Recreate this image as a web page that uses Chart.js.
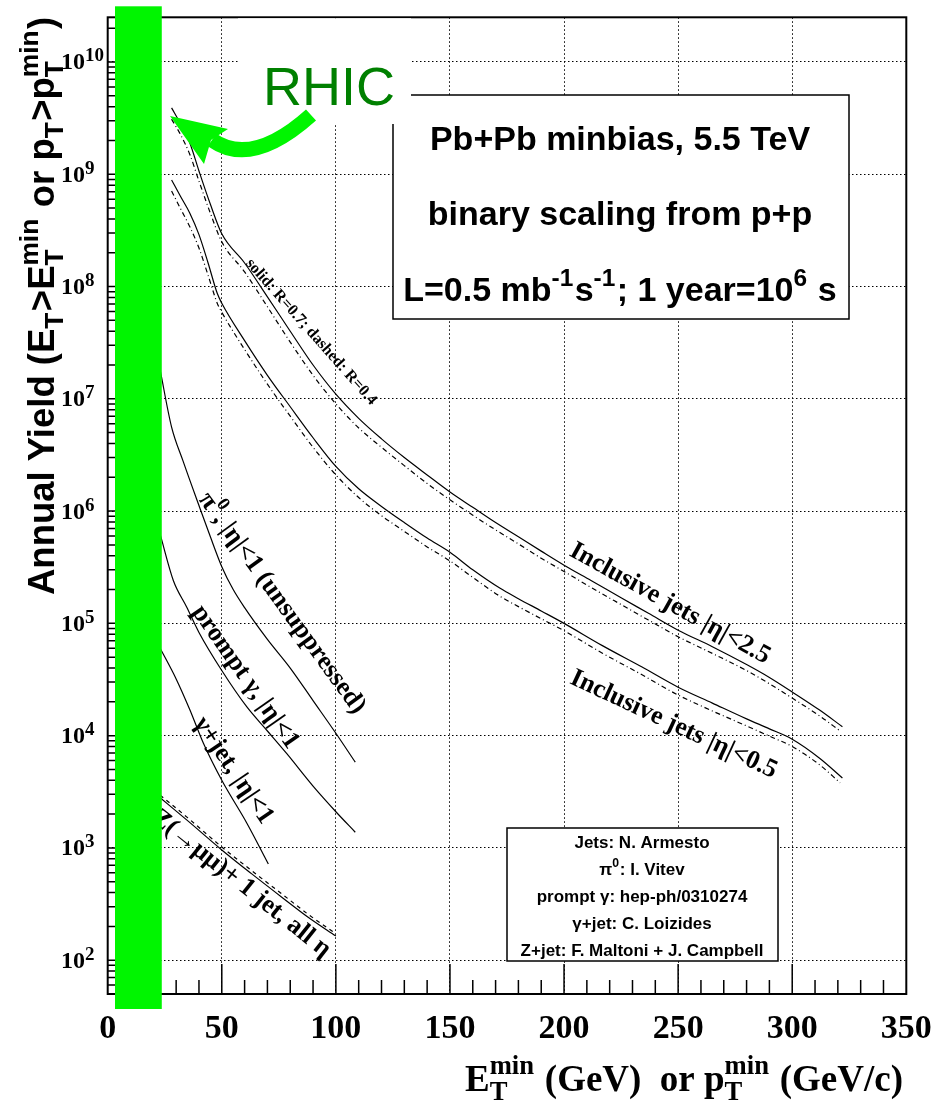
<!DOCTYPE html>
<html>
<head>
<meta charset="utf-8">
<script src="https://cdn.jsdelivr.net/npm/chart.js"></script>
<style>
  html, body { margin: 0; padding: 0; background: #fff; }
  #wrap { width: 948px; height: 1105px; }
</style>
</head>
<body>
<div id="wrap"><canvas id="c" width="948" height="1105"></canvas></div>
<script>
const $ = (q) => document.querySelector(q);

const SERIF = '"Liberation Serif", "Times New Roman", serif';
const SANS = '"Liberation Sans", Arial, Helvetica, sans-serif';
const GREEN = "rgb(0,245,0)";

// ---------- DATA ----------
const xGrid = [0, 50, 100, 150, 200, 250, 300, 350];
const yDecades = [1e2, 1e3, 1e4, 1e5, 1e6, 1e7, 1e8, 1e9, 1e10];
const yExponents = ["2", "3", "4", "5", "6", "7", "8", "9", "10"];

// inclusive jets |eta|<2.5
const jet25X = [28, 32, 36, 40, 45, 50, 60, 70, 80, 90, 100, 110, 120, 130, 140, 150, 160, 170, 180, 190, 200, 212, 225, 237, 250, 265, 280, 290, 300, 312, 322];
const jet25R07 = [3.9e9, 2.8e9, 1.9e9, 1.07e9, 5.4e8, 2.95e8, 1.62e8, 8.1e7, 4.0e7, 2.0e7, 1.1e7, 6.7e6, 4.4e6, 3.0e6, 2.1e6, 1.48e6, 1.08e6, 7.9e5, 5.9e5, 4.4e5, 3.3e5, 2.4e5, 1.69e5, 1.23e5, 8.7e4, 6.2e4, 4.3e4, 3.3e4, 2.45e4, 1.69e4, 1.2e4];
const jet25R04X = [28, 32, 36, 40, 45, 50, 60, 70, 80, 90, 100, 110, 120, 130, 140, 150, 160, 170, 180, 190, 200, 212, 225, 237, 250, 265, 280, 290, 300, 312, 321];
const jet25R04 = [3.1e9, 2.24e9, 1.5e9, 8.7e8, 4.5e8, 2.5e8, 1.35e8, 6.6e7, 3.2e7, 1.62e7, 9.0e6, 5.5e6, 3.7e6, 2.54e6, 1.76e6, 1.26e6, 9.2e5, 6.8e5, 5.1e5, 3.8e5, 2.9e5, 2.08e5, 1.47e5, 1.07e5, 7.6e4, 5.4e4, 3.8e4, 2.9e4, 2.16e4, 1.5e4, 1.1e4];

// inclusive jets |eta|<0.5
const jet05X = [28, 32, 36, 40, 44, 48, 50, 60, 70, 80, 90, 100, 110, 120, 130, 140, 150, 160, 172, 180, 190, 200, 217, 234, 250, 265, 280, 290, 300, 312, 322];
const jet05R07 = [8.9e8, 6.3e8, 4.5e8, 2.9e8, 1.62e8, 8.7e7, 7.1e7, 3.3e7, 1.62e7, 8.5e6, 4.5e6, 2.5e6, 1.58e6, 1.1e6, 7.9e5, 5.75e5, 4.3e5, 3.0e5, 2.05e5, 1.66e5, 1.29e5, 1.0e5, 6.3e4, 4.1e4, 2.7e4, 1.95e4, 1.41e4, 1.15e4, 9.3e3, 6.3e3, 4.2e3];
const jet05R04X = [28, 32, 36, 40, 44, 48, 50, 60, 70, 80, 90, 100, 110, 120, 130, 140, 150, 160, 172, 180, 190, 200, 217, 234, 250, 265, 280, 290, 300, 312, 321];
const jet05R04 = [7.1e8, 4.9e8, 3.4e8, 2.2e8, 1.26e8, 7.1e7, 5.9e7, 2.75e7, 1.35e7, 7.0e6, 3.7e6, 2.1e6, 1.32e6, 9.1e5, 6.6e5, 4.8e5, 3.6e5, 2.57e5, 1.74e5, 1.41e5, 1.1e5, 8.6e4, 5.4e4, 3.5e4, 2.3e4, 1.66e4, 1.22e4, 9.9e3, 8.0e3, 5.5e3, 3.8e3];

// pi0 |eta|<1 (unsuppressed)
const pi0X = [23, 28, 33, 40, 45, 50, 55, 60, 70, 80, 90, 100, 108.5];
const pi0Y = [1.8e7, 5.6e6, 2.8e6, 1.12e6, 5.9e5, 3.2e5, 2.0e5, 1.38e5, 7.2e4, 4.0e4, 2.05e4, 1.05e4, 5.8e3];

// prompt gamma |eta|<1
const promptX = [23, 28.8, 34.6, 40, 50, 61, 70, 78.5, 90, 100, 108.5];
const promptY = [6.2e5, 2.4e5, 1.4e5, 8.3e4, 3.8e4, 1.8e4, 1.1e4, 6.9e3, 3.55e3, 2.1e3, 1.38e3];

// gamma + jet |eta|<1
const gjetX = [23, 30, 36, 42, 50, 61, 70.4];
const gjetY = [6.0e4, 3.2e4, 1.7e4, 8.5e3, 4.0e3, 1.66e3, 7.2e2];

// Z(->mumu) + 1 jet
const zjetX = [23, 35, 50, 63, 77, 88, 100];
const zjetY = [2.8e3, 1.75e3, 9.6e2, 5.9e2, 3.55e2, 2.4e2, 1.64e2];
const zjetDashY = [2.95e3, 1.86e3, 1.02e3, 6.3e2, 3.8e2, 2.55e2, 1.72e2];

// RHIC band (GeV)
const rhicBand = [3.2, 23.7];

// ---------- TEXT HELPERS ----------
const SMALL = 0.72;

function partWidth(ctx, p, size, fam, weight) {
  if (typeof p === "string") {
    ctx.font = `${weight} ${size}px ${fam}`;
    return ctx.measureText(p).width;
  }
  ctx.font = `${weight} ${size * SMALL}px ${fam}`;
  const a = p.sub ? ctx.measureText(p.sub).width : 0;
  const b = p.sup ? ctx.measureText(p.sup).width : 0;
  return Math.max(a, b) + size * 0.04;
}

function drawParts(ctx, parts, x, y, size, fam, weight, align) {
  let total = 0;
  parts.forEach(p => { total += partWidth(ctx, p, size, fam, weight); });
  let cx = align === "center" ? x - total / 2 : align === "right" ? x - total : x;
  ctx.textAlign = "left";
  ctx.textBaseline = "alphabetic";
  for (const p of parts) {
    const w = partWidth(ctx, p, size, fam, weight);
    if (typeof p === "string") {
      ctx.font = `${weight} ${size}px ${fam}`;
      ctx.fillText(p, cx, y);
    } else {
      ctx.font = `${weight} ${size * SMALL}px ${fam}`;
      if (p.sub) ctx.fillText(p.sub, cx, y + size * 0.24);
      if (p.sup) ctx.fillText(p.sup, cx, y - size * 0.45);
    }
    cx += w;
  }
}

function rotLabel(ctx, parts, px, py, deg, size) {
  ctx.save();
  ctx.translate(px, py);
  ctx.rotate(deg * Math.PI / 180);
  ctx.fillStyle = "#000";
  drawParts(ctx, parts, 0, size * 0.33, size, SERIF, "bold", "center");
  ctx.restore();
}

// ---------- OVERLAY PIECES ----------
function drawCurveLabels(ctx, xs, ys) {
  const at = (x, y) => [xs.getPixelForValue(x), ys.getPixelForValue(y)];
  const labels = [
    { parts: ["solid: R=0.7; dashed: R=0.4"], x: 89.5, y: 4.0e7, deg: 48.5, size: 16 },
    { parts: ["Inclusive jets |η|<2.5"], x: 246.8, y: 1.55e5, deg: 29, size: 26 },
    { parts: ["Inclusive jets |η|<0.5"], x: 248.4, y: 1.3e4, deg: 25, size: 26 },
    { parts: ["π", { sup: "0" }, ", |η|<1 (unsuppressed)"], x: 77, y: 1.55e5, deg: 54, size: 26 },
    { parts: ["prompt γ, |η|<1"], x: 61, y: 3.4e4, deg: 55, size: 26 },
    { parts: ["γ+jet, |η|<1"], x: 55.8, y: 5.0e3, deg: 56, size: 26 },
    { parts: ["Z(→μμ)+ 1 jet, all η"], x: 59, y: 4.95e2, deg: 38.5, size: 26 }
  ];
  labels.forEach(l => {
    const [px, py] = at(l.x, l.y);
    rotLabel(ctx, l.parts, px, py, l.deg, l.size);
  });
}

function drawInfoBox(ctx) {
  ctx.fillStyle = "#fff";
  ctx.fillRect(393, 95, 456, 224);
  ctx.strokeStyle = "#000";
  ctx.lineWidth = 1.5;
  ctx.strokeRect(393, 95, 456, 224);
  ctx.fillStyle = "#000";
  drawParts(ctx, ["Pb+Pb minbias, 5.5 TeV"], 620, 150, 34, SANS, "bold", "center");
  drawParts(ctx, ["binary scaling from p+p"], 620, 225, 34, SANS, "bold", "center");
  drawParts(ctx, ["L=0.5 mb", { sup: "-1" }, "s", { sup: "-1" }, "; 1 year=10", { sup: "6" }, " s"], 620, 301, 34, SANS, "bold", "center");
}

function drawCredits(ctx) {
  ctx.fillStyle = "#fff";
  ctx.fillRect(507, 828, 271, 133);
  ctx.strokeStyle = "#000";
  ctx.lineWidth = 1.5;
  ctx.strokeRect(507, 828, 271, 133);
  ctx.fillStyle = "#000";
  const lines = [
    ["Jets: N. Armesto"],
    ["π", { sup: "0" }, ": I. Vitev"],
    ["prompt γ: hep-ph/0310274"],
    ["γ+jet: C. Loizides"],
    ["Z+jet: F. Maltoni + J. Campbell"]
  ];
  lines.forEach((l, i) => drawParts(ctx, l, 642, 848 + i * 27, 17, SANS, "bold", "center"));
}

function drawFrame(ctx, area, xs, ys) {
  ctx.strokeStyle = "#000";
  ctx.lineWidth = 2;
  ctx.strokeRect(area.left, area.top, area.right - area.left, area.bottom - area.top);

  // x ticks: every 10 GeV, longer every 50
  ctx.lineWidth = 1.5;
  ctx.beginPath();
  for (let v = 10; v < 350; v += 10) {
    const px = xs.getPixelForValue(v);
    const len = v % 50 === 0 ? 30 : 14;
    ctx.moveTo(px, area.bottom);
    ctx.lineTo(px, area.bottom - len);
  }
  // y ticks: decades and 2..9
  for (let d = 1e1; d <= 1e10; d *= 10) {
    for (let m = 1; m <= 9; m++) {
      const v = d * m;
      if (v < ys.min || v > ys.max) continue;
      const py = ys.getPixelForValue(v);
      ctx.moveTo(area.left, py);
      ctx.lineTo(area.left + (m === 1 ? 16 : 9), py);
    }
  }
  ctx.stroke();
}

function drawAxisLabels(ctx, area, xs, ys) {
  ctx.fillStyle = "#000";
  xGrid.forEach(v => {
    drawParts(ctx, [String(v)], xs.getPixelForValue(v), 1038, 34, SERIF, "bold", "center");
  });
  yDecades.forEach((v, i) => {
    const py = ys.getPixelForValue(v);
    ctx.font = `bold 24px ${SERIF}`;
    ctx.textAlign = "left";
    ctx.textBaseline = "alphabetic";
    ctx.fillText("10", 61, py + 7.5);
    const w = ctx.measureText("10").width;
    ctx.font = `bold 19px ${SERIF}`;
    ctx.fillText(yExponents[i], 61 + w, py - 0.5);
  });

  // x title
  drawParts(ctx, ["E", { sub: "T", sup: "min" }, " (GeV)  or p", { sub: "T", sup: "min" }, " (GeV/c)"],
    903, 1091, 37, SERIF, "bold", "right");

  // y title
  ctx.save();
  ctx.translate(54, 595);
  ctx.rotate(-Math.PI / 2);
  drawParts(ctx, ["Annual Yield (E", { sub: "T" }, ">E", { sub: "T", sup: "min" }, " or p", { sub: "T" }, ">p", { sub: "T", sup: "min" }, ")"],
    0, 0, 36.5, SANS, "bold", "left");
  ctx.restore();
}

function drawRhic(ctx, area, xs) {
  // white patch behind the RHIC text
  ctx.fillStyle = "#fff";
  ctx.fillRect(238, area.top + 1, 173, 124 - area.top - 1);

  // band
  const x0 = xs.getPixelForValue(rhicBand[0]);
  const x1 = xs.getPixelForValue(rhicBand[1]);
  ctx.fillStyle = GREEN;
  ctx.fillRect(x0, area.top - 11, x1 - x0, area.bottom - area.top + 26);

  // label
  ctx.fillStyle = "#008000";
  ctx.font = `54px ${SANS}`;
  ctx.textAlign = "left";
  ctx.textBaseline = "alphabetic";
  ctx.fillText("RHIC", 263, 105);

  // curved arrow
  ctx.strokeStyle = GREEN;
  ctx.lineWidth = 15;
  ctx.lineCap = "butt";
  ctx.beginPath();
  ctx.moveTo(311, 115);
  ctx.quadraticCurveTo(252, 168, 212, 140);
  ctx.stroke();
  ctx.fillStyle = GREEN;
  ctx.beginPath();
  ctx.moveTo(170, 116);
  ctx.lineTo(228, 129);
  ctx.lineTo(211, 140);
  ctx.lineTo(204, 164);
  ctx.closePath();
  ctx.fill();
}

const overlay = {
  id: "overlay",
  afterDatasetsDraw(chart) {
    const ctx = chart.ctx;
    const xs = chart.scales.x, ys = chart.scales.y;
    const area = chart.chartArea;
    ctx.save();
    drawCurveLabels(ctx, xs, ys);
    drawInfoBox(ctx);
    drawCredits(ctx);
    drawFrame(ctx, area, xs, ys);
    drawAxisLabels(ctx, area, xs, ys);
    drawRhic(ctx, area, xs);
    ctx.restore();
  }
};

// ---------- CHART ----------
function series(label, xs, ys, dash) {
  return {
    label,
    data: xs.map((x, i) => ({ x, y: ys[i] })),
    borderColor: "#000",
    borderWidth: 1.2,
    borderDash: dash || [],
    pointRadius: 0,
    fill: false,
    cubicInterpolationMode: "monotone"
  };
}

const DASHDOT = [5, 3, 1, 3];

new Chart($("#c"), {
  type: "line",
  data: {
    datasets: [
      series("jets |eta|<2.5, R=0.7", jet25X, jet25R07),
      series("jets |eta|<2.5, R=0.4", jet25R04X, jet25R04, DASHDOT),
      series("jets |eta|<0.5, R=0.7", jet05X, jet05R07),
      series("jets |eta|<0.5, R=0.4", jet05R04X, jet05R04, DASHDOT),
      series("pi0", pi0X, pi0Y),
      series("prompt gamma", promptX, promptY),
      series("gamma+jet", gjetX, gjetY),
      series("Z+jet", zjetX, zjetY),
      series("Z+jet dashed", zjetX, zjetDashY, [4, 4])
    ]
  },
  options: {
    responsive: false,
    animation: false,
    devicePixelRatio: 1,
    layout: { padding: { left: 107.7, right: 41.7, top: 17.3, bottom: 111 } },
    plugins: { legend: { display: false }, tooltip: { enabled: false } },
    scales: {
      x: {
        type: "linear", min: 0, max: 350,
        afterBuildTicks: s => { s.ticks = xGrid.map(v => ({ value: v })); },
        afterFit: s => { s.height = 0; },
        ticks: { display: false },
        grid: { color: "#000", lineWidth: 1, drawTicks: false },
        border: { display: false, dash: [1.5, 2.5] }
      },
      y: {
        type: "logarithmic", min: 50, max: 2.5e10,
        afterBuildTicks: s => { s.ticks = yDecades.map(v => ({ value: v })); },
        afterFit: s => { s.width = 0; },
        ticks: { display: false },
        grid: { color: "#000", lineWidth: 1, drawTicks: false },
        border: { display: false, dash: [1.5, 2.5] }
      }
    }
  },
  plugins: [overlay]
});
</script>
</body>
</html>
